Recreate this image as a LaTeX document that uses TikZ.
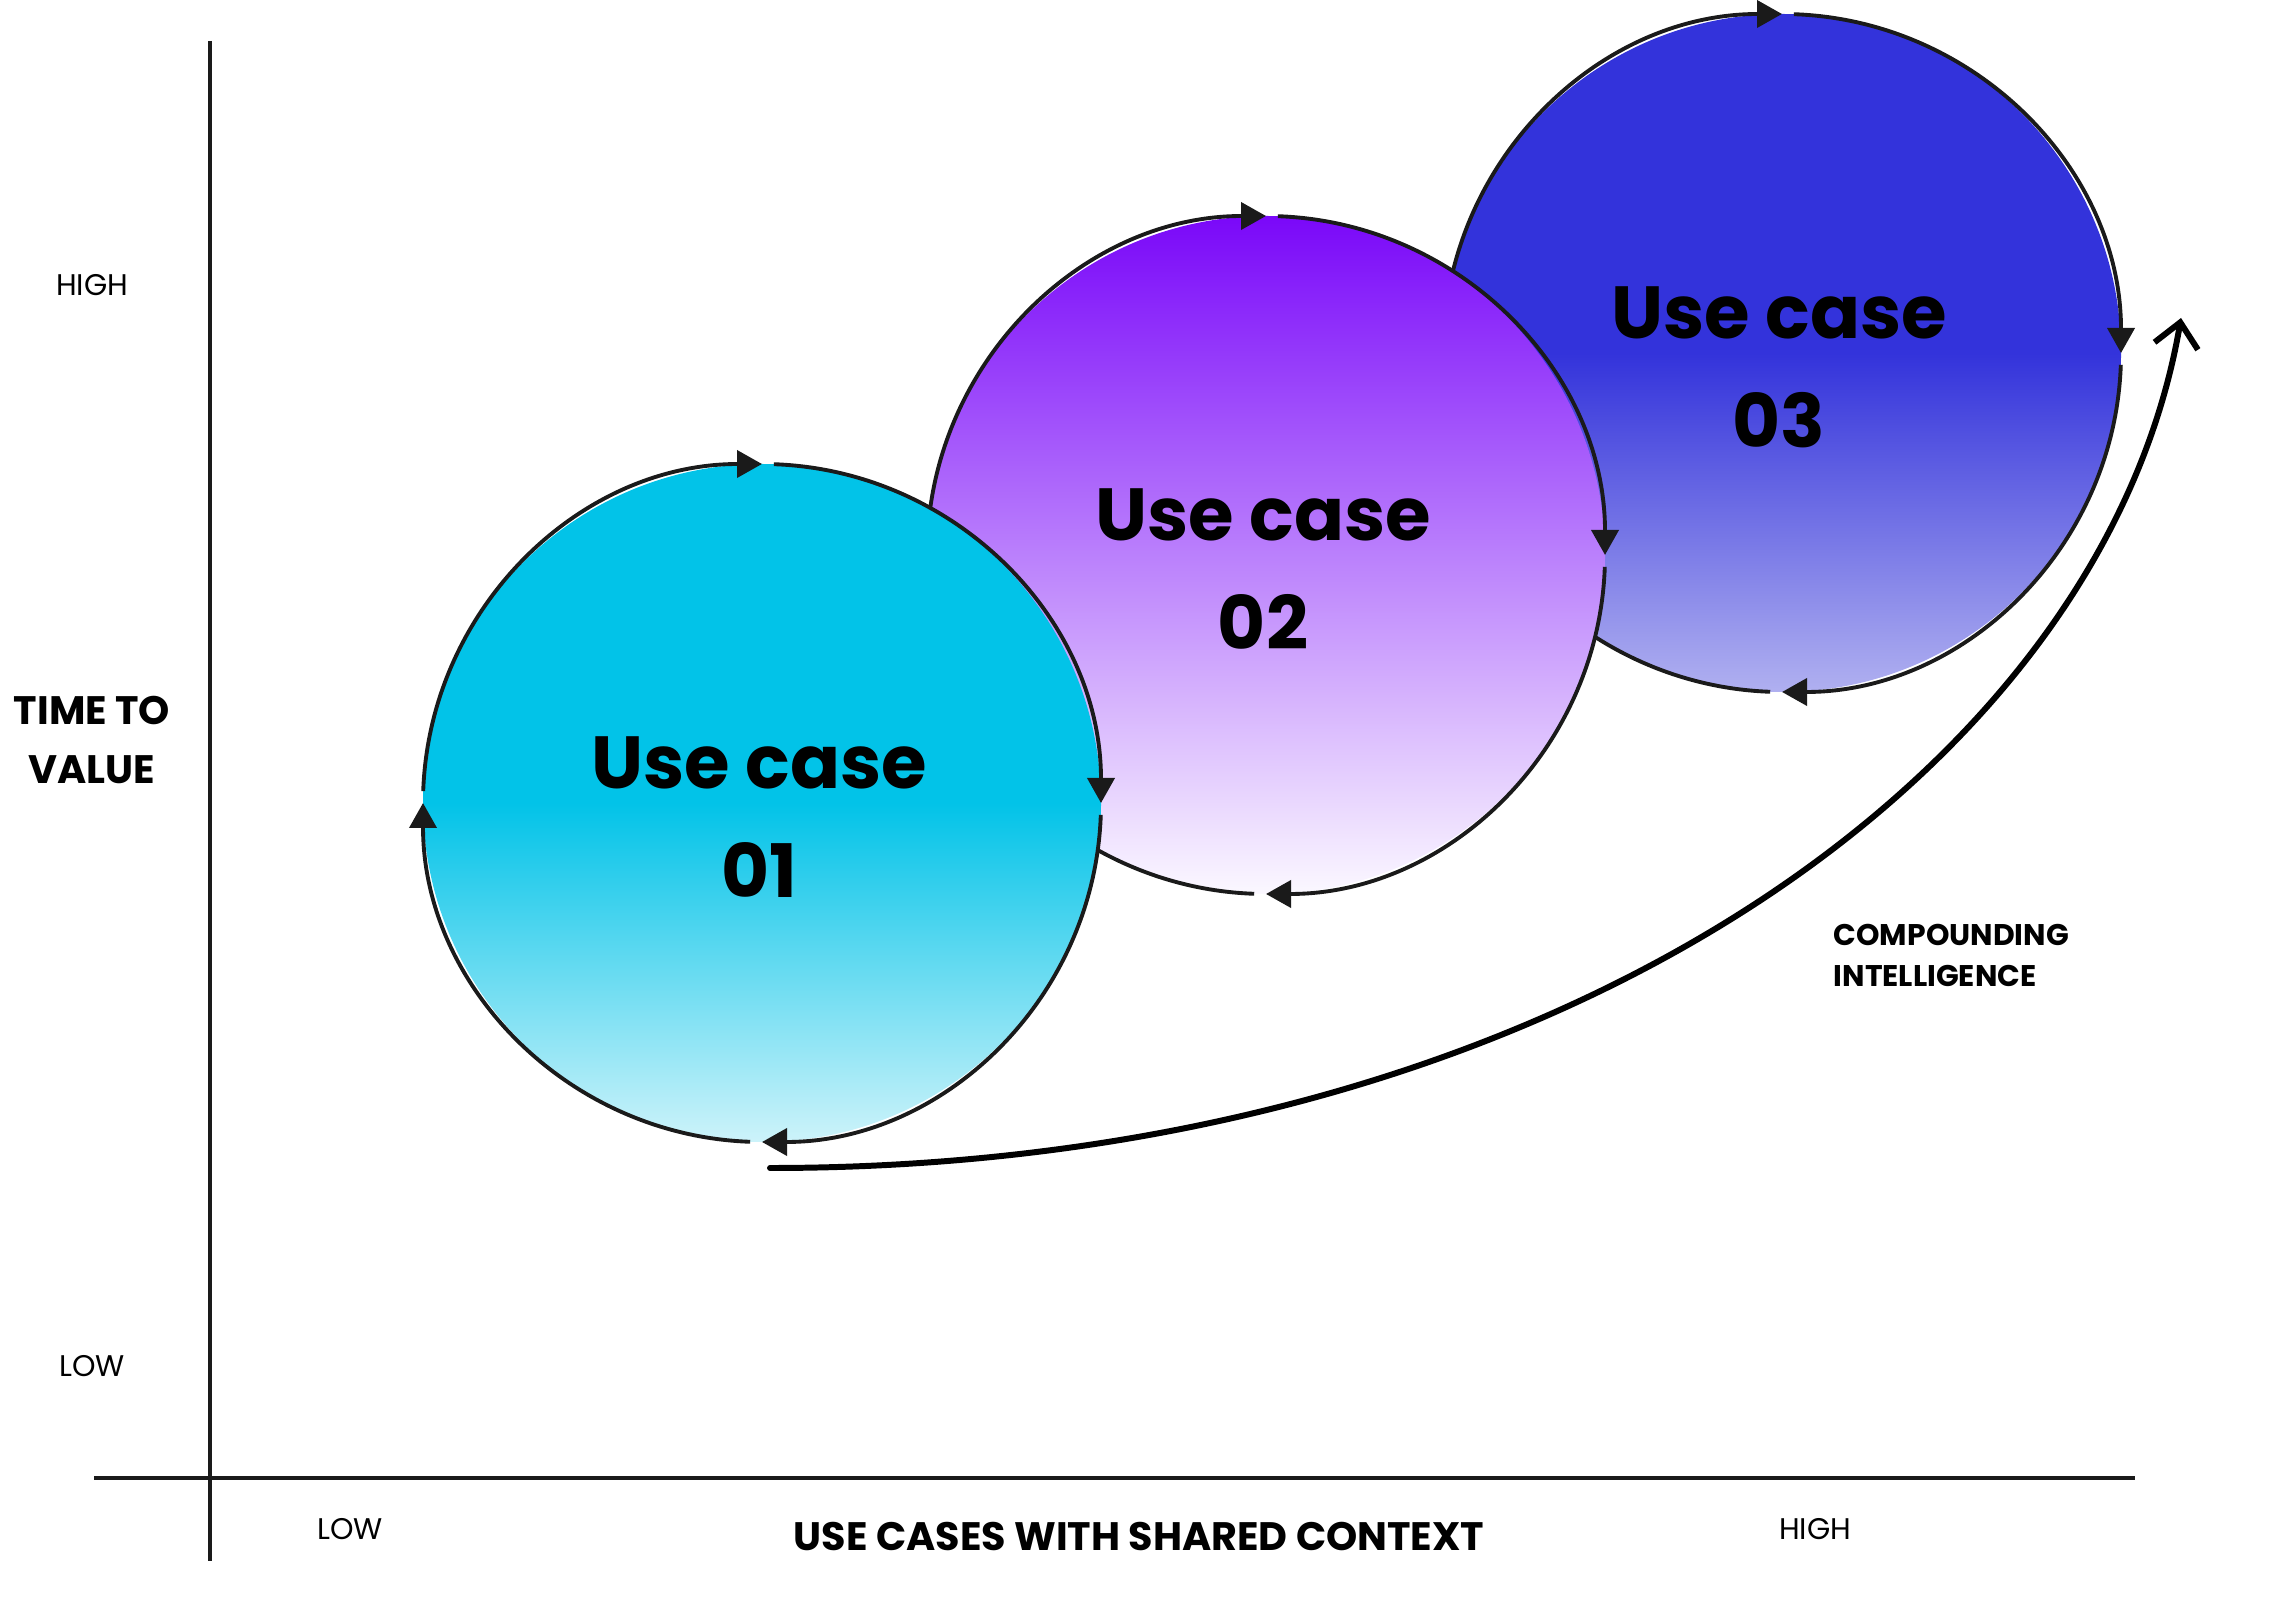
\documentclass[tikz,border=0pt]{standalone}
\usepackage{fontspec}
\setmainfont{Poppins}
\usetikzlibrary{positioning, calc, arrows.meta}
\definecolor{ucaqua}{HTML}{02C3E8}
\definecolor{ucaqualt}{HTML}{CDF3FA}
\definecolor{ucviolet}{HTML}{7A08F9}
\definecolor{ucvioletlt}{HTML}{FBF8FF}
\definecolor{ucblue}{HTML}{3333DB}
\definecolor{ucbluelt}{HTML}{B0B0F0}
\definecolor{rim}{HTML}{1A1A1A}
\pgfdeclareverticalshading{aquafade}{100bp}{color(0bp)=(ucaqualt); color(25bp)=(ucaqualt); color(50bp)=(ucaqua); color(100bp)=(ucaqua)}
\pgfdeclareverticalshading{violetfade}{100bp}{color(0bp)=(ucvioletlt); color(25bp)=(ucvioletlt); color(75bp)=(ucviolet); color(100bp)=(ucviolet)}
\pgfdeclareverticalshading{bluefade}{100bp}{color(0bp)=(ucbluelt); color(25bp)=(ucbluelt); color(50bp)=(ucblue); color(100bp)=(ucblue)}
\tikzset{
	casecircle/.pic={
			\shade[shading=#1] (0,0) circle[radius=3.39];
			\foreach \a in {0,90,180,270}
				\draw[rim, line width=1.1pt, -{Triangle[length=2.5mm,width=2.7mm]}]
				(\a+88:3.39) arc[start angle=\a+88, end angle=\a, radius=3.39];
		}
}
\tikzset{
	casetext/.style={font=\fontsize{21}{31}\selectfont\bfseries, align=center, inner sep=0pt}
}
\tikzset{
	axistitle/.style={font=\fontsize{11.3}{17}\selectfont\bfseries, align=center, inner sep=0pt},
	axislabel/.style={font=\fontsize{8.5}{10}\selectfont, inner sep=0pt},
	axisline/.style={draw=rim, line width=1pt},
	growtharrow/.style={line width=1.7pt, line cap=round, -{Straight Barb[length=2.4mm,width=4.4mm,line width=1.7pt]}}
}

\begin{document}
\begin{tikzpicture}
\useasboundingbox (0,0) rectangle (22.90,15.96);

\coordinate (yTop) at (2.10,15.55);
\coordinate (yBot) at (2.10,0.35);
\coordinate (xLeft) at (0.94,1.18);
\coordinate (xRight) at (21.35,1.18);

\draw[axisline] (yTop) -- (yBot);
\draw[axisline] (xLeft) -- (xRight);

\coordinate (cA) at (7.62,7.93);
\coordinate (cB) at (12.66,10.41);
\coordinate (cC) at (17.82,12.43);

\pic at (cC) {casecircle={bluefade}};
\pic at (cB) {casecircle={violetfade}};
\pic at (cA) {casecircle={aquafade}};

\node[casetext] (tA) at ($(cA)+(-0.03,-0.14)$) {Use case\\01};
\node[casetext] (tB) at ($(cB)+(-0.03,-0.14)$) {Use case\\02};
\node[casetext] (tC) at ($(cC)+(-0.03,-0.14)$) {Use case\\03};

% growth curve
\coordinate (gStart) at (7.70,4.28);
\coordinate (gEnd) at (21.81,12.78);
\draw[growtharrow] (gStart) .. controls (15.48,4.28) and (21.03,8.22) .. (gEnd);
\node[font=\fontsize{8.5}{11.7}\selectfont\bfseries, align=left, anchor=west, inner sep=0pt] (compound) at (18.33,6.41) {COMPOUNDING\\INTELLIGENCE};

\node[axislabel] (yHigh) at (0.92,13.11) {HIGH};
\node[axistitle] (yTitle) at (0.92,8.56) {TIME TO\\VALUE};
\node[axislabel] (yLow) at (0.92,2.30) {LOW};

\node[axislabel] (xLow) at (3.50,0.67) {LOW};
\node[axistitle] (xTitle) at (11.39,0.60) {USE CASES WITH SHARED CONTEXT};
\node[axislabel] (xHigh) at (18.15,0.67) {HIGH};

\end{tikzpicture}
\end{document}
